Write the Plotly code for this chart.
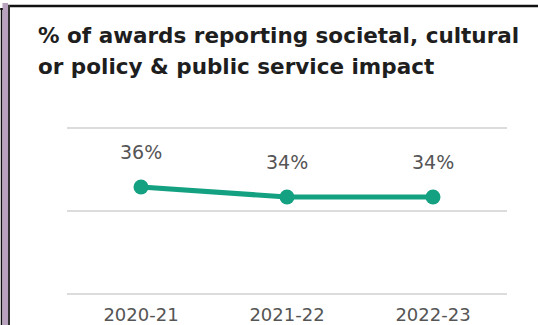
import plotly.graph_objects as go

years = ["2020-21", "2021-22", "2022-23"]
values = [36, 34, 34]
labels = ["36%", "34%", "34%"]
title_lines = ["% of awards reporting societal, cultural", "or policy & public service impact"]
grid_values = [14.6, 31.2, 47.8]

W, H = 538, 325
L, R, T, B = 67, 507, 118, 304  # plot area in pixels
y_lo, y_hi = 12.6, 49.8

def px(x):
    return (x - L) / (R - L)

def py(y):
    return (B - y) / (B - T)

teal = "#13a182"
fig = go.Figure()
fig.add_trace(go.Scatter(
    x=list(range(len(years))), y=values, mode="lines+markers",
    line=dict(color=teal, width=5), marker=dict(color=teal, size=15),
    hoverinfo="skip", showlegend=False, cliponaxis=False,
))

annotations = []
for i, (v, t) in enumerate(zip(values, labels)):
    annotations.append(dict(x=i, y=v, xref="x", yref="y", text=t, showarrow=False,
                            yshift=35, font=dict(family="DejaVu Sans", size=19, color="#555555")))
for line, yc in zip(title_lines, [36, 66]):
    annotations.append(dict(x=px(36), y=py(yc), xref="paper", yref="paper", xanchor="left",
                            yanchor="middle", align="left", showarrow=False,
                            text="<b>" + line + "</b>",
                            font=dict(family="DejaVu Sans", size=21.5, color="#1e1e1e")))

shapes = [
    dict(type="line", xref="paper", yref="paper", x0=px(8), x1=px(538), y0=py(6), y1=py(6),
         line=dict(color="#111111", width=2.5)),
    dict(type="rect", xref="paper", yref="paper", x0=px(2.5), x1=px(8), y0=py(3), y1=py(330),
         fillcolor="#b9a2c0", line=dict(width=0)),
    dict(type="line", xref="paper", yref="paper", x0=px(1.5), x1=px(1.5), y0=py(8), y1=py(330),
         line=dict(color="#111111", width=1.5)),
    dict(type="line", xref="paper", yref="paper", x0=px(9), x1=px(9), y0=py(5), y1=py(330),
         line=dict(color="#333333", width=2)),
    dict(type="line", xref="paper", yref="paper", x0=px(0), x1=px(3), y0=py(9), y1=py(9),
         line=dict(color="#111111", width=1.5)),
]

fig.update_layout(
    width=W, height=H,
    margin=dict(l=L, r=W - R, t=T, b=H - B, autoexpand=False),
    paper_bgcolor="white", plot_bgcolor="white",
    annotations=annotations, shapes=shapes,
    xaxis=dict(range=[-0.507, 2.507], tickvals=list(range(len(years))), ticktext=years,
               showgrid=False, zeroline=False, showline=False, ticks="",
               tickfont=dict(family="DejaVu Sans", size=18, color="#555555"),
               ticklabelstandoff=-2, fixedrange=True),
    yaxis=dict(range=[y_lo, y_hi], tickvals=grid_values, showticklabels=False,
               showgrid=True, gridcolor="#dcdcdc", gridwidth=2, zeroline=False, showline=False,
               fixedrange=True),
)
fig.write_html("out.html", config={"displayModeBar": False})
